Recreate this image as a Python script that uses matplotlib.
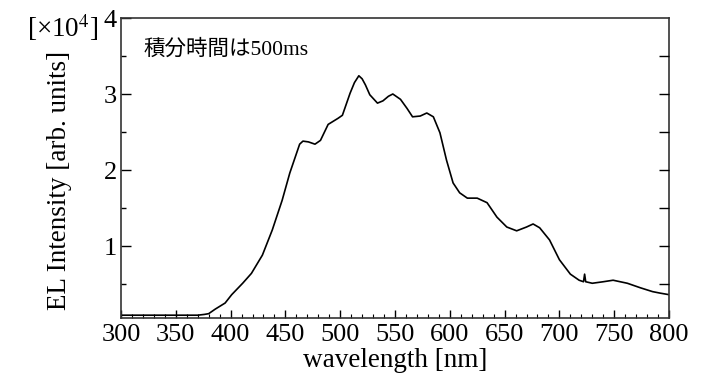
import numpy as np
import matplotlib
matplotlib.use("Agg")
from matplotlib import pyplot as plt

# EL spectrum (intensity in units of 1e4)
wavelength = [300, 320, 340, 360, 370, 376, 380, 386, 395, 401, 411, 419, 429, 438, 447,
              454, 463, 466, 471, 477, 482, 489, 498, 502, 509, 513, 517, 520, 523, 527,
              534, 539, 544, 548, 555, 561, 566, 573, 579, 585, 591, 597, 603, 609, 616,
              625, 634, 643, 652, 661, 670, 676, 682, 691, 700, 710, 718, 722, 723, 724,
              730, 740, 749, 762, 774, 785, 792, 800]
intensity = [0.09, 0.09, 0.09, 0.09, 0.09, 0.10, 0.11, 0.17, 0.25, 0.36, 0.51, 0.64, 0.88, 1.21, 1.60,
             1.96, 2.34, 2.38, 2.37, 2.34, 2.39, 2.60, 2.68, 2.72, 3.01, 3.15, 3.24, 3.20, 3.12, 2.99,
             2.88, 2.91, 2.97, 3.00, 2.93, 2.81, 2.70, 2.71, 2.75, 2.70, 2.49, 2.13, 1.83, 1.70, 1.63,
             1.63, 1.57, 1.38, 1.25, 1.20, 1.25, 1.29, 1.24, 1.08, 0.82, 0.63, 0.55, 0.53, 0.63, 0.53,
             0.51, 0.53, 0.55, 0.51, 0.45, 0.40, 0.38, 0.36]

xticks = [300, 350, 400, 450, 500, 550, 600, 650, 700, 750, 800]
yticks = [1, 2, 3, 4]

plt.rcParams['font.family'] = ['Liberation Serif', 'Noto Sans CJK JP']
plt.rcParams['mathtext.fontset'] = 'stix'

fig = plt.figure(figsize=(7.11, 3.82), dpi=100)
ax = fig.add_axes([121/711, 1-318/382, 548/711, 300/382])

ax.plot(wavelength, intensity, color='black', lw=1.2)
ax.set_xlim(300, 800)
ax.set_ylim(0.053, 4)

ax.set_xticks(xticks)
ax.set_xticks(np.arange(300, 801, 10), minor=True)
ax.set_yticks(yticks)
ax.set_yticks([0.5, 1.5, 2.5, 3.5], minor=True)
ax.tick_params(axis='x', which='major', direction='in', length=5.5, width=1, labelsize=19, pad=4)
ax.tick_params(axis='x', which='minor', direction='in', length=3, width=0.8)
ax.tick_params(axis='y', which='major', direction='in', length=7.2, width=1, labelsize=19, pad=3)
ax.tick_params(axis='y', which='minor', direction='in', length=3.6, width=1)

for s in ax.spines.values():
    s.set_color('#333333')
    s.set_linewidth(1.2)

# right side ticks every 0.5, all the same length
ax2 = ax.twinx()
ax2.set_ylim(ax.get_ylim())
ax2.set_yticks([0.5, 1, 1.5, 2, 2.5, 3, 3.5])
ax2.tick_params(axis='y', direction='in', length=7.2, width=1, labelright=False)
for s in ax2.spines.values():
    s.set_visible(False)

ax.set_xlabel('wavelength [nm]', fontsize=19.5)
ax.xaxis.set_label_coords(0.5, -0.1)
ax.set_ylabel('EL Intensity [arb. units]', fontsize=19.5)
ax.yaxis.set_label_coords(-0.09, 0.46)

fig.text(27/711, 1-37/382, '[×10$^4$]', fontsize=19.5)
ax.text(0.042, 0.893, '積分時間は500ms', transform=ax.transAxes, fontsize=15.5,
        va='center', ha='left')

plt.savefig('out.png', dpi=100)
